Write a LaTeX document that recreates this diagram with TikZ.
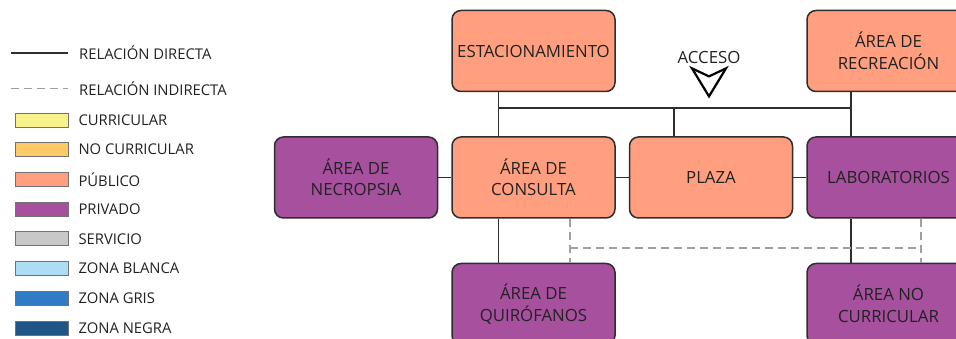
\documentclass[tikz,border=0pt]{standalone}
\usepackage{fontspec}
\setmainfont{Open Sans}
\usepackage{tikz}
\usetikzlibrary{positioning, calc}
\definecolor{publico}{HTML}{FF9F7F}
\definecolor{privado}{HTML}{A6509E}
\definecolor{curricular}{HTML}{F7F28C}
\definecolor{nocurricular}{HTML}{FFC966}
\definecolor{servicio}{HTML}{C8C8C8}
\definecolor{zblanca}{HTML}{ADDDF5}
\definecolor{zgris}{HTML}{2F7CC4}
\definecolor{znegra}{HTML}{1E5688}
\definecolor{trazo}{HTML}{2E2E2E}
\definecolor{texto}{HTML}{222222}
\definecolor{discont}{HTML}{A0A0A0}
\tikzset{
  area/.style={rectangle,rounded corners=9pt,draw=trazo,fill=#1,line width=1.5pt,
    minimum width=163pt,minimum height=81pt,align=center,text=texto,
    font=\fontsize{16.8}{21.5}\selectfont},
  directa/.style={draw=trazo,line width=1.7pt},
  indirecta/.style={draw=discont,line width=1.4pt,dash pattern=on 8pt off 5pt},
  muestra/.style={rectangle,draw=black!55,fill=#1,line width=0.7pt,
    minimum width=53pt,minimum height=14pt,inner sep=0pt},
  leyenda/.style={text=texto,inner sep=1pt,font=\fontsize{14.8}{17}\selectfont},
}

\begin{document}
\begin{tikzpicture}[x=1pt,y=-1pt,node distance=13pt]
    \useasboundingbox (0,0) rectangle (956,339);
    % leyenda
    \coordinate (l1a) at (11,53);  \coordinate (l1b) at (68,53);
    \coordinate (l2a) at (11,89);  \coordinate (l2b) at (68,89);
    \draw[directa,line width=1.4pt] (l1a) -- (l1b);
    \draw[indirecta,line width=1pt] (l2a) -- (l2b);
    \node[leyenda,anchor=west] (ld) at (78,53) {RELACIÓN DIRECTA};
    \node[leyenda,anchor=west] (li) at (78,89) {RELACIÓN INDIRECTA};
    \foreach \c/\t [count=\i from 0] in {curricular/CURRICULAR,nocurricular/NO CURRICULAR,
        publico/PÚBLICO,privado/PRIVADO,servicio/SERVICIO,zblanca/ZONA BLANCA,
        zgris/ZONA GRIS,znegra/ZONA NEGRA}{
      \node[muestra=\c] (sw\i) at (41.5,{120+29.7*\i}) {};
      \node[leyenda,right=9pt of sw\i] (lb\i) {\t};
    }
    % areas
    \node[area=publico] (consulta) at (533.5,177.5) {ÁREA DE\\CONSULTA};
    \node[area=privado,left=of consulta] (necropsia) {ÁREA DE\\NECROPSIA};
    \node[area=publico,right=of consulta] (plaza) {PLAZA};
    \node[area=privado,right=of plaza] (labs) {LABORATORIOS};
    \node[area=publico,above=44pt of consulta] (estac) {ESTACIONAMIENTO};
    \node[area=publico,above=44pt of labs] (recrea) {ÁREA DE\\RECREACIÓN};
    \node[area=privado,below=44pt of consulta] (quirof) {ÁREA DE\\QUIRÓFANOS};
    \node[area=privado,below=44pt of labs] (nocurr) {ÁREA NO\\CURRICULAR};
    % acceso
    \node[text=texto,font=\fontsize{16.8}{19}\selectfont,inner sep=1pt] (acceso) at (709,57) {ACCESO};
    \draw[draw=black,line width=2.2pt,line join=miter]
      ($(acceso.south)+(-17,4)$) -- ($(acceso.south)+(0,12)$) -- ($(acceso.south)+(17,4)$)
      -- ($(acceso.south)+(0,32)$) -- cycle;
    % relaciones directas
    \coordinate (busL) at (498.5,108);
    \coordinate (busM) at (674,108);
    \coordinate (busR) at (851,108);
    \draw[directa] (busL) -- (busR);
    \draw[directa] (estac.south -| busL) -- (consulta.north -| busL);
    \draw[directa] (recrea.south -| busR) -- (labs.north -| busR);
    \draw[directa] (busM) -- (plaza.north -| busM);
    \draw[directa] (necropsia) -- (consulta);
    \draw[directa] (consulta) -- (plaza);
    \draw[directa] (plaza) -- (labs);
    \draw[directa] (consulta.south -| busL) -- (quirof.north -| busL);
    \draw[directa] (labs.south -| busR) -- (nocurr.north -| busR);
    % relaciones indirectas
    \coordinate (indL) at (570,248);
    \coordinate (indR) at (921,248);
    \draw[indirecta] (consulta.south -| indL) -- (quirof.north -| indL);
    \draw[indirecta] (labs.south -| indR) -- (nocurr.north -| indR);
    \draw[indirecta] (indL) -- (indR);
\end{tikzpicture}
\end{document}
